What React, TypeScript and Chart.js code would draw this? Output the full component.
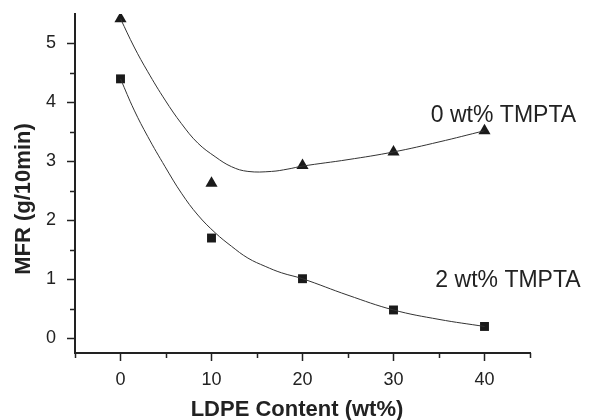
import { useEffect, useRef } from 'react';
import { Chart, registerables } from 'chart.js';

Chart.register(...registerables);

// LDPE content (wt%) of the measured samples
const ldpe = [0, 10, 20, 30, 40];
// measured MFR values
const mfr0 = [5.42, 2.63, 2.93, 3.16, 3.52]; // 0 wt% TMPTA (triangles)
const mfr2 = [4.4, 1.7, 1.01, 0.48, 0.2]; // 2 wt% TMPTA (squares)

// fitted curves
const fit0X = [0, 1.5, 3, 4.9, 6.7, 8.5, 10.4, 12.2, 14, 16.6, 18.4, 20, 25, 30, 35, 40];
const fit0Y = [5.42, 4.94, 4.52, 4.04, 3.64, 3.31, 3.08, 2.91, 2.83, 2.83, 2.87, 2.92, 3.03, 3.16, 3.33, 3.52];
const fit2X = [0, 1.5, 3, 4.9, 6.7, 8.5, 10.4, 12.2, 14, 15.9, 17.7, 20, 25, 30, 35, 40];
const fit2Y = [4.4, 3.87, 3.42, 2.91, 2.46, 2.09, 1.79, 1.56, 1.36, 1.22, 1.11, 1.01, 0.73, 0.48, 0.32, 0.2];

// axis ticks
const xMajorTicks = [0, 10, 20, 30, 40];
const xMinorTicks = [-5, 5, 15, 25, 35, 45];
const yMajorTicks = [0, 1, 2, 3, 4, 5];
const yMinorTicks = [0.5, 1.5, 2.5, 3.5, 4.5];

// text
const xTitle = 'LDPE Content (wt%)';
const yTitle = 'MFR (g/10min)';
const seriesLabels = ['0 wt% TMPTA', '2 wt% TMPTA'];
const seriesLabelX = [34.1, 34.6];
const seriesLabelY = [3.78, 0.98];

const INK = '#222';
const FONT = '"Liberation Sans", Arial, sans-serif';

const toPts = (xs: number[], ys: number[]) => xs.map((x, i) => ({ x, y: ys[i] }));

export default function App() {
  const ref = useRef<HTMLCanvasElement>(null);

  useEffect(() => {
    document.body.style.margin = '0';
    const canvas = ref.current!;

    const decor = {
      id: 'decor',
      afterDraw(chart: any) {
        const { ctx, chartArea, scales } = chart;
        const xs = scales.x;
        const ys = scales.y;
        ctx.save();
        // minor ticks
        ctx.strokeStyle = INK;
        ctx.lineWidth = 1.5;
        ctx.beginPath();
        xMinorTicks.forEach((v) => {
          const px = Math.round(xs.getPixelForValue(v)) + 0.5;
          ctx.moveTo(px, chartArea.bottom);
          ctx.lineTo(px, chartArea.bottom + 5);
        });
        yMinorTicks.forEach((v) => {
          const py = Math.round(ys.getPixelForValue(v)) + 0.5;
          ctx.moveTo(chartArea.left, py);
          ctx.lineTo(chartArea.left - 5, py);
        });
        ctx.stroke();

        // axis titles
        ctx.fillStyle = INK;
        ctx.font = `bold 22px ${FONT}`;
        ctx.textAlign = 'center';
        ctx.textBaseline = 'middle';
        ctx.fillText(xTitle, 297, 410);
        ctx.save();
        ctx.translate(24, 199);
        ctx.rotate(-Math.PI / 2);
        ctx.fillText(yTitle, 0, 0);
        ctx.restore();

        // series labels
        ctx.font = `23px ${FONT}`;
        ctx.textAlign = 'left';
        seriesLabels.forEach((t, i) => {
          ctx.fillText(t, xs.getPixelForValue(seriesLabelX[i]), ys.getPixelForValue(seriesLabelY[i]));
        });
        ctx.restore();
      },
    };

    const chart = new Chart(canvas, {
      type: 'scatter',
      data: {
        datasets: [
          {
            data: toPts(fit0X, fit0Y),
            showLine: true,
            borderColor: '#333',
            borderWidth: 1,
            pointRadius: 0,
            tension: 0.4,
            fill: false,
          },
          {
            data: toPts(fit2X, fit2Y),
            showLine: true,
            borderColor: '#333',
            borderWidth: 1,
            pointRadius: 0,
            tension: 0.4,
            fill: false,
          },
          {
            data: toPts(ldpe, mfr0),
            showLine: false,
            pointStyle: 'triangle',
            pointRadius: 7,
            backgroundColor: '#1a1a1a',
            borderColor: '#1a1a1a',
            borderWidth: 0,
          },
          {
            data: toPts(ldpe, mfr2),
            showLine: false,
            pointStyle: 'rect',
            pointRadius: 6.3,
            backgroundColor: '#1a1a1a',
            borderColor: '#1a1a1a',
            borderWidth: 0,
          },
        ],
      } as any,
      plugins: [decor],
      options: {
        responsive: false,
        animation: false,
        events: [],
        layout: { padding: { top: 14, right: 61, left: 0, bottom: 0 } },
        plugins: { legend: { display: false }, tooltip: { enabled: false } },
        scales: {
          x: {
            type: 'linear',
            min: -5,
            max: 45,
            afterBuildTicks: (s: any) => {
              s.ticks = xMajorTicks.map((v) => ({ value: v }));
            },
            afterFit: (s: any) => {
              s.height = 67;
              s.paddingLeft = 0;
              s.paddingRight = 0;
            },
            ticks: {
              autoSkip: false,
              maxRotation: 0,
              padding: 8,
              color: INK,
              font: { family: FONT, size: 18 },
              callback: (v: any) => String(v),
            },
            grid: { drawOnChartArea: false, tickLength: 8, tickColor: INK, tickWidth: 1.5 },
            border: { display: true, color: INK, width: 2 },
          },
          y: {
            type: 'linear',
            min: -0.25,
            max: 5.5,
            afterBuildTicks: (s: any) => {
              s.ticks = yMajorTicks.map((v) => ({ value: v }));
            },
            afterFit: (s: any) => {
              s.width = 75;
              s.paddingTop = 0;
              s.paddingBottom = 0;
            },
            ticks: {
              autoSkip: false,
              padding: 11,
              color: INK,
              font: { family: FONT, size: 18 },
              callback: (v: any) => String(v),
            },
            grid: { drawOnChartArea: false, tickLength: 8, tickColor: INK, tickWidth: 1.5 },
            border: { display: true, color: INK, width: 2 },
          },
        },
      } as any,
    });
    return () => chart.destroy();
  }, []);

  return (
    <div style={{ width: 591, height: 420 }}>
      <canvas ref={ref} width={591} height={420} style={{ display: 'block' }} />
    </div>
  );
}
